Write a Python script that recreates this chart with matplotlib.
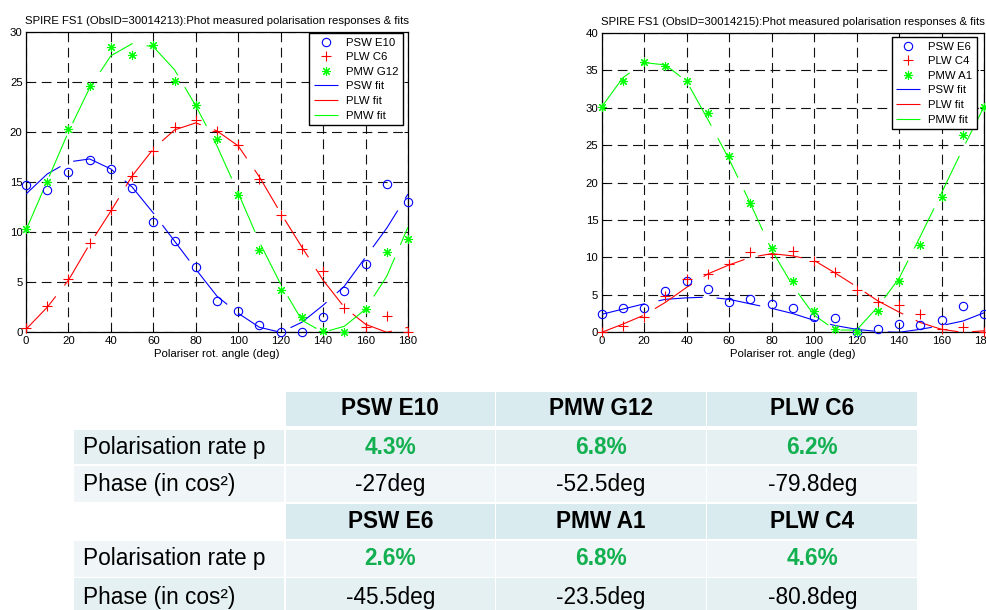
import matplotlib
matplotlib.use('Agg')
import matplotlib.pyplot as plt
from matplotlib.patches import Rectangle

plt.rcParams['font.family'] = ['Liberation Sans', 'DejaVu Sans']
plt.rcParams['lines.scale_dashes'] = False

angles = list(range(0, 181, 10))

# ---- left panel (ObsID=30014213)
psw_e10 = [14.7, 14.2, 16.0, 17.2, 16.3, 14.4, 11.0, 9.1, 6.5, 3.1, 2.1, 0.7, 0.0, 0.0, 1.5, 4.1, 6.8, 14.8, 13.0]
plw_c6 = [0.4, 2.6, 5.3, 8.9, 12.2, 15.6, 18.1, 20.5, 21.2, 20.1, 18.7, 15.3, 11.7, 8.3, 6.1, 2.4, 0.5, 1.6, 0.0]
pmw_g12 = [10.3, 15.0, 20.3, 24.6, 28.5, 27.7, 28.7, 25.1, 22.7, 19.3, 13.7, 8.2, 4.2, 1.5, 0.1, 0.0, 2.3, 8.0, 9.3]
psw_fit_l = [13.8, 15.8, 17.0, 17.3, 16.3, 14.5, 11.9, 9.1, 6.3, 3.6, 1.9, 0.5, 0.0, 1.0, 2.7, 4.6, 7.5, 10.4, 13.8]
plw_fit_l = [0.3, 2.5, 5.2, 8.8, 12.1, 15.6, 18.3, 20.2, 20.9, 20.1, 18.6, 15.5, 11.9, 8.5, 5.2, 2.5, 0.8, 0.0, 0.5]
pmw_fit_l = [10.2, 15.1, 20.0, 24.4, 27.6, 28.8, 28.5, 26.2, 22.6, 18.6, 13.9, 9.0, 4.8, 1.2, 0.0, 0.6, 2.3, 5.6, 10.5]

# ---- right panel (ObsID=30014215)
psw_e6 = [2.4, 3.3, 3.2, 5.5, 6.9, 5.8, 4.0, 4.5, 3.8, 3.3, 2.0, 1.9, 0.0, 0.5, 1.1, 1.0, 1.6, 3.5, 2.4]
plw_c4 = [0.0, 0.9, 2.1, 4.9, 7.1, 7.8, 9.1, 10.7, 10.4, 10.8, 9.5, 8.0, 5.7, 4.1, 3.7, 2.5, 0.5, 0.7, 0.0]
pmw_a1 = [30.1, 33.5, 36.1, 35.6, 33.5, 29.3, 23.6, 17.3, 11.2, 6.9, 2.8, 0.4, 0.0, 2.8, 6.8, 11.7, 18.1, 26.3, 30.1]
psw_fit_r = [2.4, 3.1, 3.8, 4.4, 4.6, 4.7, 4.4, 3.8, 3.2, 2.5, 1.6, 0.9, 0.4, 0.1, 0.0, 0.4, 0.9, 1.5, 2.6]
plw_fit_r = [0.0, 1.1, 2.3, 4.0, 6.0, 7.8, 9.0, 10.0, 10.5, 10.2, 9.6, 7.9, 6.1, 4.2, 2.7, 1.3, 0.4, 0.0, 0.2]
pmw_fit_r = [30.1, 34.0, 36.0, 35.7, 33.5, 28.4, 23.1, 17.2, 11.0, 6.2, 2.3, 0.3, 0.3, 3.4, 7.2, 12.8, 18.6, 24.5, 30.1]

# ---- table
row_labels = ["Polarisation rate p", "Phase (in cos\u00b2)"]
header1 = ["PSW E10", "PMW G12", "PLW C6"]
rates1 = ["4.3%", "6.8%", "6.2%"]
phases1 = ["-27deg", "-52.5deg", "-79.8deg"]
header2 = ["PSW E6", "PMW A1", "PLW C4"]
rates2 = ["2.6%", "6.8%", "4.6%"]
phases2 = ["-45.5deg", "-23.5deg", "-80.8deg"]

W, H = 987, 610
fig = plt.figure(figsize=(W / 100, H / 100), dpi=100)
FS = 8.2


def px_axes(x0, x1, ytop, ybot):
    return fig.add_axes([x0 / W, 1 - ybot / H, (x1 - x0) / W, (ybot - ytop) / H])


def panel(ax, title, ymax, psw, plw, pmw, fits, labels, anchor):
    ax.set_xlim(0, 180)
    ax.set_ylim(0, ymax)
    ax.set_xticks(range(0, 181, 20))
    ax.set_yticks(range(0, ymax + 1, 5))
    ax.grid(True, color='#111111', linestyle=(0, (7, 4)), linewidth=0.8)
    ax.set_axisbelow(True)
    ax.plot(angles, psw, ls='none', marker='o', mfc='none', mec=(0, 0, 1), ms=6, mew=0.8,
            label=labels[0], clip_on=False, zorder=4)
    ax.plot(angles, plw, ls='none', marker='+', color=(1, 0, 0), ms=7.5, mew=0.8,
            label=labels[1], clip_on=False, zorder=4)
    ax.plot(angles, pmw, ls='none', marker=(8, 2, 0), color=(0, 1, 0), ms=6.5, mew=0.8,
            label=labels[2], clip_on=False, zorder=4)
    for vals, col, lab in zip(fits, [(0, 0, 1), (1, 0, 0), (0, 1, 0)], ['PSW fit', 'PLW fit', 'PMW fit']):
        ax.plot(angles, vals, color=col, lw=0.8, dashes=(32, 10), label=lab, zorder=3)
    ax.set_title(title, fontsize=FS, pad=5.5)
    ax.set_xlabel("Polariser rot. angle (deg)", fontsize=FS, labelpad=2.5)
    ax.tick_params(direction='in', top=True, right=True, length=3, width=0.7,
                   labelsize=FS, pad=2.5)
    for s in ax.spines.values():
        s.set_linewidth(0.9)
        s.set_color('k')
    leg = ax.legend(loc='upper right', bbox_to_anchor=anchor, borderaxespad=0, fontsize=FS,
                    numpoints=1, fancybox=False, framealpha=1, edgecolor='k',
                    handlelength=2.1, handletextpad=0.7, labelspacing=0.4, borderpad=0.4)
    leg.get_frame().set_linewidth(1.0)
    leg.set_zorder(10)


ax1 = px_axes(26, 408, 31.7, 332.3)
panel(ax1, "SPIRE FS1 (ObsID=30014213):Phot measured polarisation responses & fits", 30,
      psw_e10, plw_c6, pmw_g12, [psw_fit_l, plw_fit_l, pmw_fit_l],
      ["PSW E10", "PLW C6", "PMW G12"], (0.986, 0.995))

ax2 = px_axes(601.7, 984, 32.7, 332.3)
panel(ax2, "SPIRE FS1 (ObsID=30014215):Phot measured polarisation responses & fits", 40,
      psw_e6, plw_c4, pmw_a1, [psw_fit_r, plw_fit_r, pmw_fit_r],
      ["PSW E6", "PLW C4", "PMW A1"], (0.981, 0.985))

# ---- table drawn in pixel coordinates
tab = fig.add_axes([0, 0, 1, 1], zorder=-1)
tab.set_xlim(0, W)
tab.set_ylim(H, 0)
tab.axis('off')

col_edges = [(74, 284.3), (285.7, 495), (496.3, 706), (707.3, 917.3)]
row_edges = [(391.7, 426), (430, 464.3), (465.7, 502.3), (503.5, 539), (540.7, 576.7), (578.3, 616)]
c_head = '#d9ebee'
c_dark = '#e4f0f2'
c_light = '#f0f6f7'
row_colors = [None, c_dark, c_light, None, c_light, c_dark]
fs = 16.3
green = '#12b050'

blocks = [(header1, rates1, phases1), (header2, rates2, phases2)]
for b, (hdr, rates, phases) in enumerate(blocks):
    r0 = 3 * b
    y0, y1 = row_edges[r0]
    for j, name in enumerate(hdr):
        x0, x1 = col_edges[j + 1]
        tab.add_patch(Rectangle((x0, y0), x1 - x0, y1 - y0, color=c_head, lw=0))
        tab.text((x0 + x1) / 2, (y0 + y1) / 2, name, ha='center', va='center',
                 fontsize=fs, fontweight='bold', color='black')
    for k, (vals, bold, col) in enumerate([(rates, True, green), (phases, False, 'black')]):
        y0, y1 = row_edges[r0 + 1 + k]
        bg = row_colors[r0 + 1 + k]
        for j in range(4):
            x0, x1 = col_edges[j]
            tab.add_patch(Rectangle((x0, y0), x1 - x0, y1 - y0, color=bg, lw=0))
        tab.text(82.7, (y0 + y1) / 2, row_labels[k], ha='left', va='center',
                 fontsize=fs, color='black')
        for j, v in enumerate(vals):
            x0, x1 = col_edges[j + 1]
            tab.text((x0 + x1) / 2, (y0 + y1) / 2, v, ha='center', va='center',
                     fontsize=fs, fontweight='bold' if bold else 'normal', color=col)

fig.savefig('out.png', dpi=100)
